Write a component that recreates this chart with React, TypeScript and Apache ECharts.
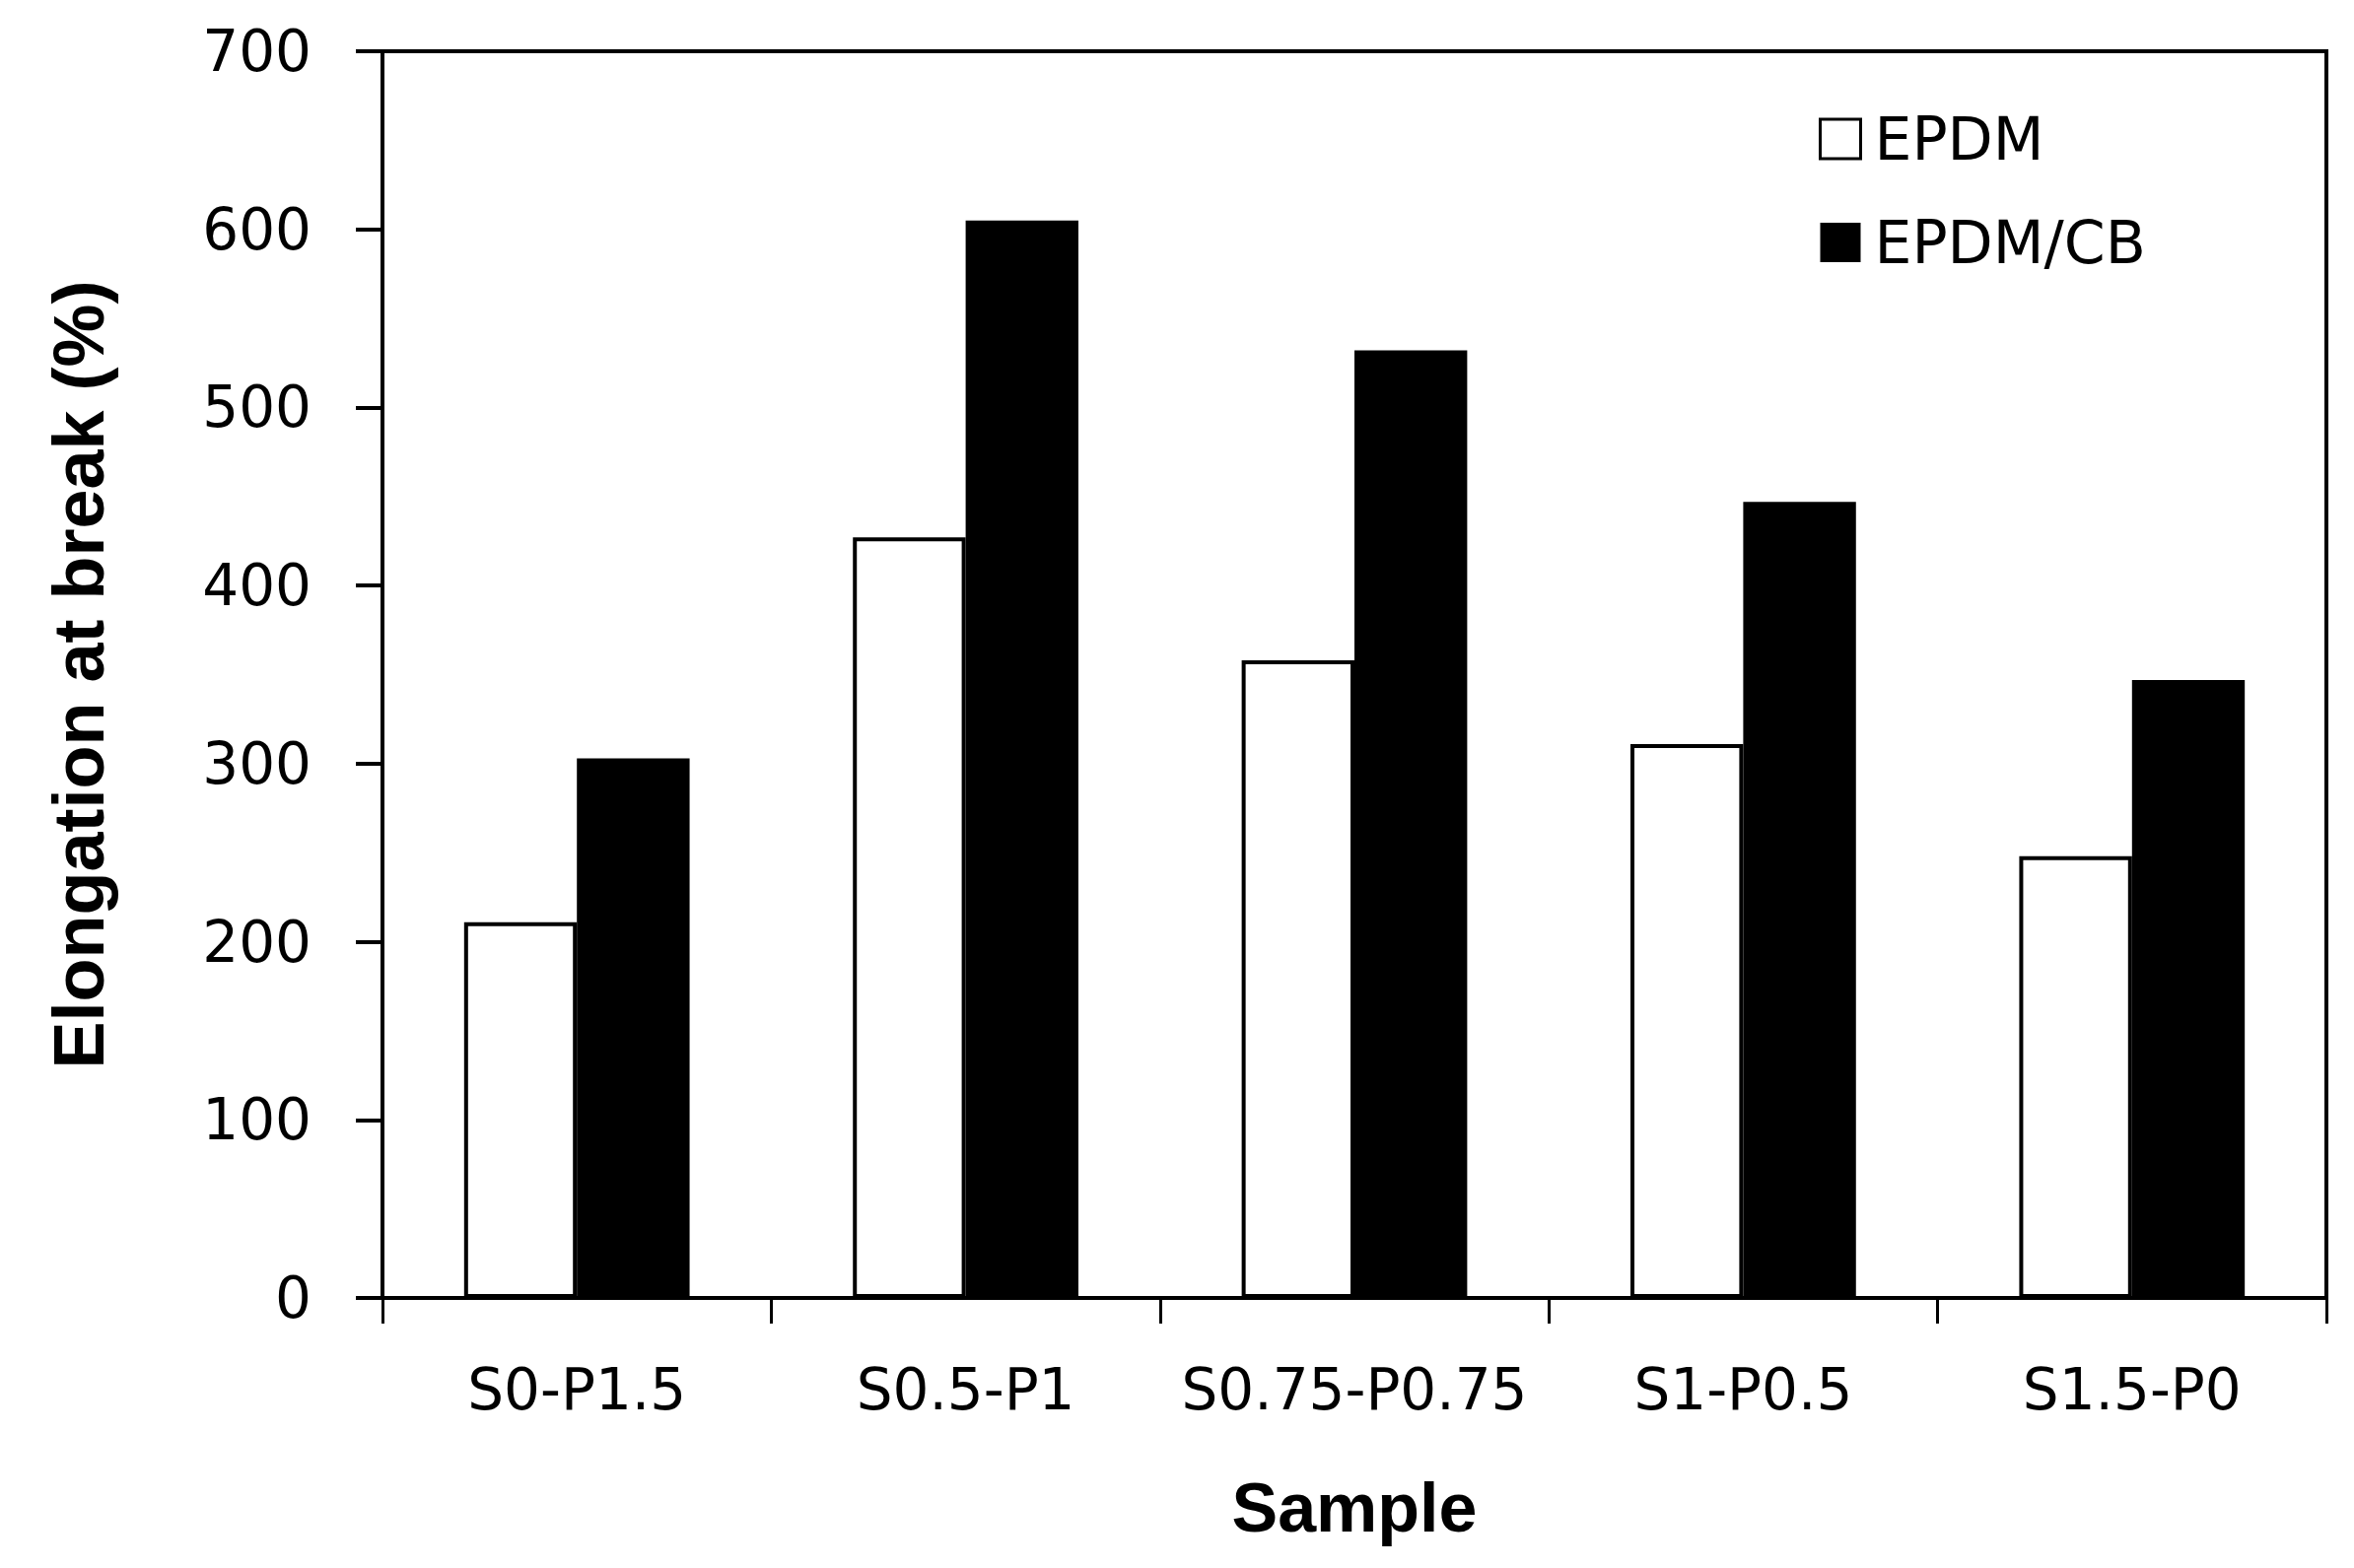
import { useEffect, useRef } from 'react';
import * as echarts from 'echarts';

const samples = ['S0-P1.5', 'S0.5-P1', 'S0.75-P0.75', 'S1-P0.5', 'S1.5-P0'];
const epdm = [211, 427, 358, 311, 248];
const epdmCb = [303, 605, 532, 447, 347];
const yTicks = { min: 0, max: 700, interval: 100 };

const REGULAR = '"DejaVu Sans", Verdana, sans-serif';
const BOLD = '"Liberation Sans", Arial, sans-serif';

export default function App() {
  const chartRef = useRef<HTMLDivElement>(null);

  useEffect(() => {
    if (!chartRef.current) return;
    const chart = echarts.init(chartRef.current, undefined, { renderer: 'svg' });

    const option: echarts.EChartsOption = {
      animation: false,
      backgroundColor: '#fff',
      grid: {
        left: 388,
        right: 28,
        top: 52,
        bottom: 274,
        show: true,
        borderColor: '#000',
        borderWidth: 4,
      },
      legend: {
        left: 1840,
        top: 106,
        orient: 'vertical',
        itemWidth: 41,
        itemHeight: 40,
        itemGap: 45,
        icon: 'rect',
        textStyle: {
          fontFamily: REGULAR,
          fontSize: 60,
          lineHeight: 60,
          color: '#000',
          padding: [0, 0, 0, 9],
        },
        data: [
          { name: 'EPDM', itemStyle: { color: '#fff', borderColor: '#000', borderWidth: 3 } },
          { name: 'EPDM/CB', itemStyle: { color: '#000', borderWidth: 0 } },
        ],
      },
      xAxis: {
        type: 'category',
        data: samples,
        name: 'Sample',
        nameLocation: 'middle',
        nameGap: 178,
        nameTextStyle: {
          fontFamily: BOLD,
          fontWeight: 'bold',
          fontSize: 70,
          color: '#000',
        },
        axisLine: { lineStyle: { color: '#000', width: 4 } },
        axisTick: {
          show: true,
          interval: 0,
          length: 26,
          lineStyle: { color: '#000', width: 3 },
        },
        axisLabel: {
          interval: 0,
          fontFamily: REGULAR,
          fontSize: 58,
          color: '#000',
          margin: 64,
        },
      },
      yAxis: {
        type: 'value',
        min: yTicks.min,
        max: yTicks.max,
        interval: yTicks.interval,
        name: 'Elongation at break (%)',
        nameLocation: 'middle',
        nameGap: 272,
        nameTextStyle: {
          fontFamily: BOLD,
          fontWeight: 'bold',
          fontSize: 72,
          color: '#000',
        },
        axisLine: { show: true, lineStyle: { color: '#000', width: 4 } },
        axisTick: {
          show: true,
          length: 27,
          lineStyle: { color: '#000', width: 4 },
        },
        axisLabel: {
          fontFamily: REGULAR,
          fontSize: 58,
          color: '#000',
          margin: 72,
        },
        splitLine: { show: false },
      },
      series: [
        {
          name: 'EPDM',
          type: 'bar',
          data: epdm,
          barWidth: '29%',
          barGap: '0%',
          itemStyle: { color: '#fff', borderColor: '#000', borderWidth: 4 },
        },
        {
          name: 'EPDM/CB',
          type: 'bar',
          data: epdmCb,
          barWidth: '29%',
          barGap: '0%',
          itemStyle: { color: '#000' },
        },
      ],
    };

    chart.setOption(option);

    return () => {
      chart.dispose();
    };
  }, []);

  return (
    <div
      ref={chartRef}
      style={{ position: 'fixed', left: 0, top: 0, width: 2388, height: 1591 }}
    />
  );
}
